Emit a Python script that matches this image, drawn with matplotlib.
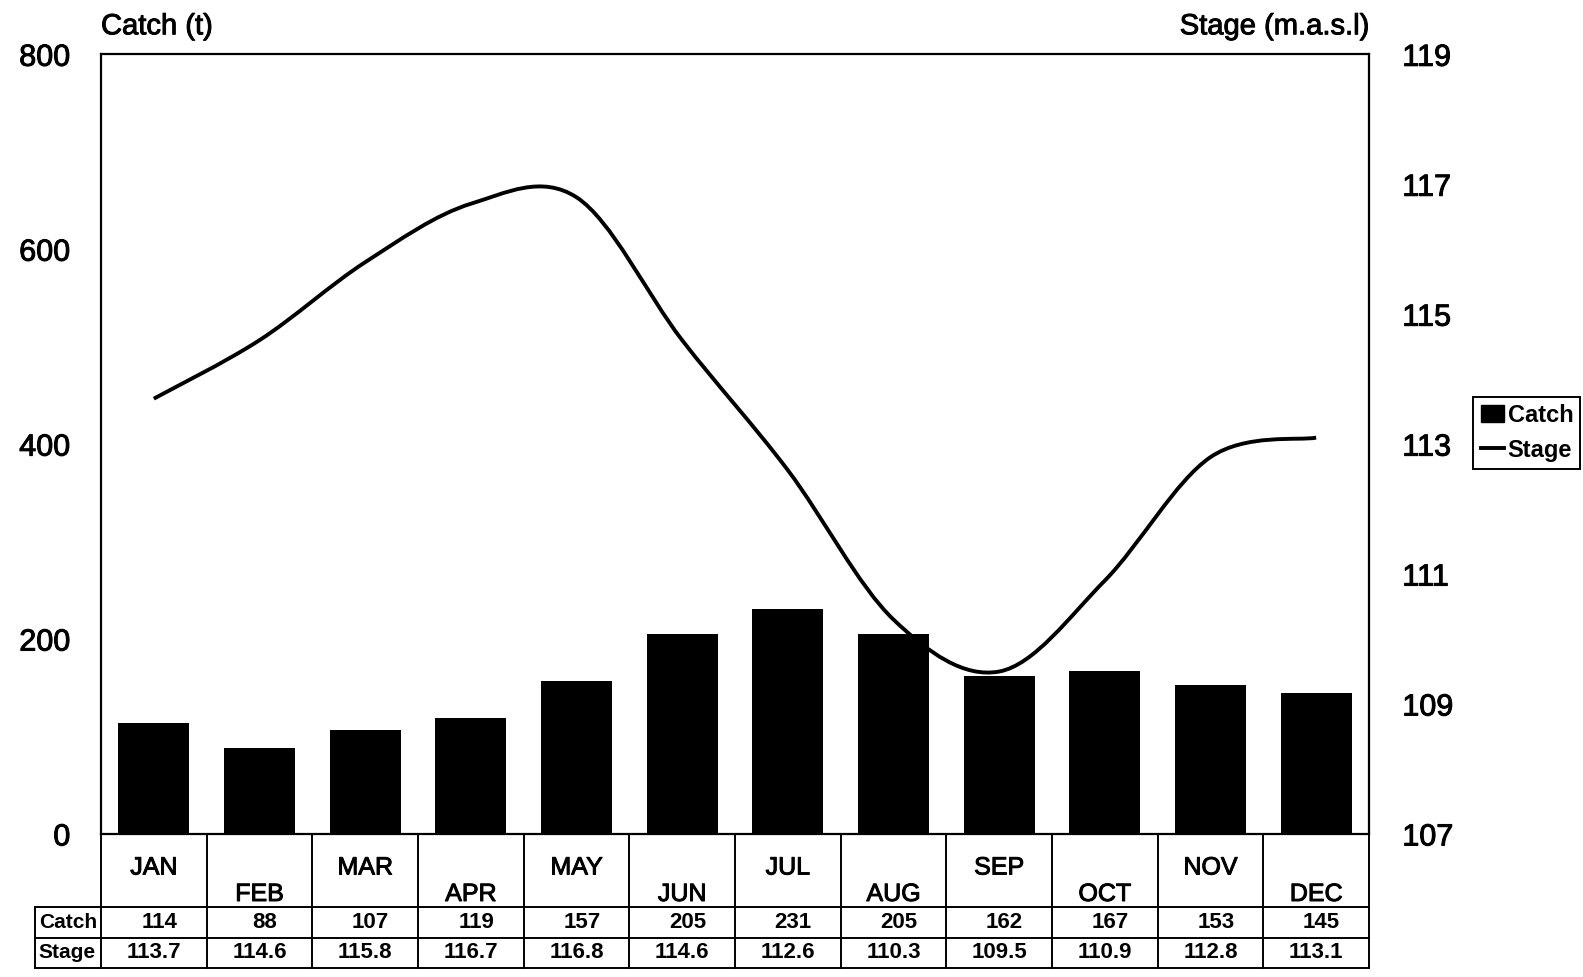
import numpy as np
import matplotlib
matplotlib.use("Agg")
import matplotlib.pyplot as plt
import matplotlib.transforms as transforms
import matplotlib.patheffects as pe
from matplotlib.path import Path
from matplotlib.patches import PathPatch, Patch
from matplotlib.lines import Line2D

plt.rcParams['font.family'] = ['Liberation Sans', 'DejaVu Sans']

# data
months = ['JAN', 'FEB', 'MAR', 'APR', 'MAY', 'JUN', 'JUL', 'AUG', 'SEP', 'OCT', 'NOV', 'DEC']
catch = [114, 88, 107, 119, 157, 205, 231, 205, 162, 167, 153, 145]
stage = [113.7, 114.6, 115.8, 116.7, 116.8, 114.6, 112.6, 110.3, 109.5, 110.9, 112.8, 113.1]
catch_ticks = [0, 200, 400, 600, 800]
stage_ticks = [107, 109, 111, 113, 115, 117, 119]

# slightly heavier strokes, the original is a photocopy
thick = [pe.withStroke(linewidth=0.7, foreground='black')]

fig = plt.figure(figsize=(15.83, 9.77), dpi=100)
ax = fig.add_axes([0.0638, 0.1464, 0.801, 0.798])
x = np.arange(len(months))

ax.bar(x, catch, width=0.67, color='black', zorder=2)
ax.set_xlim(-0.5, 11.5)
ax.set_ylim(0, 800)
ax.set_yticks(catch_ticks)
ax.set_xticks([])
ax.tick_params(axis='y', length=0, pad=22, labelsize=22)
for s in ax.spines.values():
    s.set_linewidth(1.6)

ax2 = ax.twinx()
ax2.set_ylim(107, 119)
ax2.set_yticks(stage_ticks)
ax2.tick_params(axis='y', length=0, pad=24, labelsize=22)
for s in ax2.spines.values():
    s.set_visible(False)
for t in ax.get_yticklabels() + ax2.get_yticklabels():
    t.set_path_effects(thick)

# smooth line through the stage values (bezier, like a spreadsheet "smoothed line")
ys = np.array(stage)
n = len(ys)
verts = [(x[0], ys[0])]
codes = [Path.MOVETO]
for i in range(n - 1):
    a, b = max(i - 1, 0), min(i + 2, n - 1)
    c1 = (x[i] + (x[i + 1] - x[a]) / 6, ys[i] + (ys[i + 1] - ys[a]) / 6)
    c2 = (x[i + 1] - (x[b] - x[i]) / 6, ys[i + 1] - (ys[b] - ys[i]) / 6)
    verts += [c1, c2, (x[i + 1], ys[i + 1])]
    codes += [Path.CURVE4] * 3
ax2.add_patch(PathPatch(Path(verts, codes), fill=False, lw=2.8, edgecolor='black', zorder=3))

ax.text(0, 1.018, 'Catch (t)', transform=ax.transAxes, ha='left', va='bottom', fontsize=21,
        path_effects=thick)
ax.text(1, 1.018, 'Stage (m.a.s.l)', transform=ax.transAxes, ha='right', va='bottom', fontsize=21,
        path_effects=thick)

# data table below the axis
trans = transforms.blended_transform_factory(ax.transData, ax.transAxes)
mh, ch, sh = 0.0936, 0.0397, 0.0385
y1, y2, y3 = -mh, -mh - ch, -mh - ch - sh
hx = -1.12
lw = 1.4
for k in range(13):
    ax.plot([k - 0.5, k - 0.5], [0, y3], color='black', lw=lw, transform=trans, clip_on=False)
ax.plot([hx, hx], [y1, y3], color='black', lw=lw, transform=trans, clip_on=False)
for yy in (y1, y2, y3):
    ax.plot([hx, 11.5], [yy, yy], color='black', lw=lw, transform=trans, clip_on=False)

for i, m in enumerate(months):
    ym = -0.043 if i % 2 == 0 else -0.077
    ax.text(i, ym, m, transform=trans, ha='center', va='center', fontsize=18, path_effects=thick)
    ax.text(i + 0.05, (y1 + y2) / 2, str(catch[i]), transform=trans, ha='center', va='center',
            fontsize=16, fontweight='bold')
    ax.text(i, (y2 + y3) / 2, f'{stage[i]:.1f}', transform=trans, ha='center', va='center',
            fontsize=16, fontweight='bold')
ax.text(hx + 0.03, (y1 + y2) / 2, 'Catch', transform=trans, ha='left', va='center', fontsize=15, fontweight='bold')
ax.text(hx + 0.03, (y2 + y3) / 2, 'Stage', transform=trans, ha='left', va='center', fontsize=15, fontweight='bold')

handles = [Patch(facecolor='black', edgecolor='black'), Line2D([], [], color='black', lw=2.8)]
leg = fig.legend(handles, ['Catch', 'Stage'], loc='center', bbox_to_anchor=(0.9646, 0.557),
                 fancybox=False, edgecolor='black', framealpha=1, handlelength=1.0, handleheight=0.7,
                 handletextpad=0.15, borderpad=0.3, labelspacing=0.5, borderaxespad=0,
                 prop={'size': 17, 'weight': 'bold'})
leg.get_frame().set_linewidth(1.4)

fig.savefig('out.png', dpi=100)
